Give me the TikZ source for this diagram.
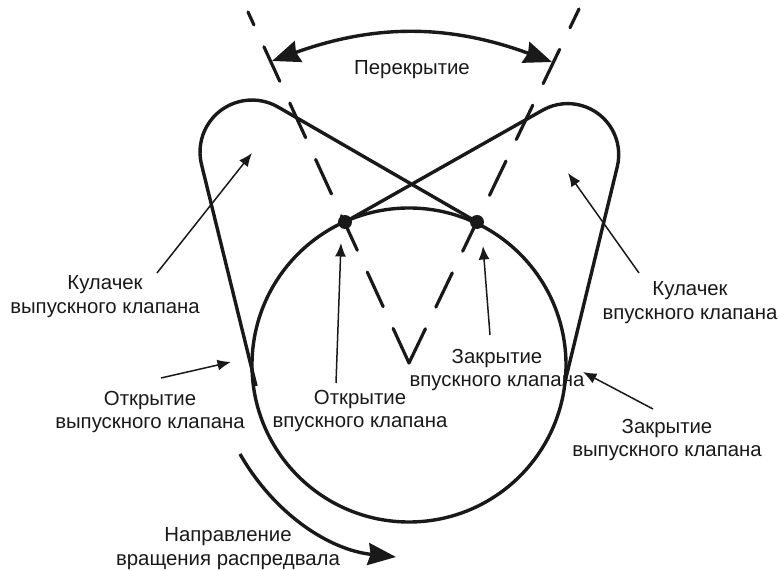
\documentclass[tikz,border=0pt]{standalone}
\usepackage{fontspec}
\setmainfont{Liberation Sans}
\usetikzlibrary{arrows.meta}
\tikzset{
  cam line/.style={line width=0.068cm, draw=black!90},
  axis dash/.style={
    line width=0.064cm, draw=black!90, line cap=round,
    dash pattern=on 0.76cm off 0.48cm
  },
  thin arrow/.style={
    -{Latex[length=0.27cm,width=0.22cm]}, line width=0.03cm, draw=black!90
  },
  big arrow/.style={
    line width=0.068cm, draw=black!90
  },
  label text/.style={
    align=center, font=\fontsize{11.6}{13.6}\selectfont, text=black!90, inner sep=0pt
  },
  valve dot/.style={
    circle, fill=black!90, inner sep=0pt, minimum size=0.28cm
  },
}
\begin{document}
\begin{tikzpicture}[x=0.02cm,y=-0.02cm]
  \useasboundingbox (0,0) rectangle (779,571);

  % Base circle
  \coordinate (center) at (409,365);
  \draw[cam line] (center) circle[radius=157];

  % Overlap axes
  \coordinate (apex) at (409,363);
  \coordinate (exhausttop) at (248,12);
  \coordinate (intaketop) at (579,9);
  \draw[axis dash] (apex) -- (exhausttop);
  \draw[axis dash] (apex) -- (intaketop);

  \node[valve dot] (intakeopen) at (345,222) {};
  \node[valve dot] (intakeclose) at (477,222) {};

  % Exhaust lobe
  \draw[cam line] (intakeclose.center) -- (278,107)
    arc[start angle=-60, end angle=-193, radius=52] -- (256,386);

  % Intake lobe
  \draw[cam line] (intakeopen.center) -- (543,110)
    arc[start angle=-119, end angle=14, radius=51] -- (564,386);

  % Overlap
  \coordinate (overlapleft) at (272,61);
  \coordinate (overlapright) at (552,62);
  \draw[big arrow, {Stealth[length=0.56cm,width=0.44cm,inset=0.05cm]}-{Stealth[length=0.56cm,width=0.44cm,inset=0.05cm]}]
    (overlapleft) to[bend left=20] (overlapright);
  \node[label text] (overlap) at (412,70) {Перекрытие};

  % Exhaust lobe label
  \node[label text] (exhaustcam) at (105,297) {Кулачек\\выпускного клапана};
  \coordinate (exhaustcamtail) at (157,273);
  \coordinate (exhaustcamtip) at (252,153);
  \draw[thin arrow] (exhaustcamtail) -- (exhaustcamtip);

  % Intake lobe label
  \node[label text] (intakecam) at (690,303) {Кулачек\\впускного клапана};
  \coordinate (intakecamtail) at (639,273);
  \coordinate (intakecamtip) at (568,173);
  \draw[thin arrow] (intakecamtail) -- (intakecamtip);

  % Exhaust opening
  \node[label text] (exhaustopen) at (150,412) {Открытие\\выпускного клапана};
  \coordinate (exhaustopentail) at (161,378);
  \coordinate (exhaustopentip) at (231,362);
  \draw[thin arrow] (exhaustopentail) -- (exhaustopentip);

  % Intake opening
  \node[label text] (intakeopenlabel) at (360,411) {Открытие\\впускного клапана};
  \coordinate (intakeopentail) at (336,383);
  \coordinate (intakeopentip) at (341,243);
  \draw[thin arrow] (intakeopentail) -- (intakeopentip);

  % Intake closing
  \node[label text] (intakecloselabel) at (497,370) {Закрытие\\впускного клапана};
  \coordinate (intakeclosetail) at (490,335);
  \coordinate (intakeclosetip) at (483,246);
  \draw[thin arrow] (intakeclosetail) -- (intakeclosetip);

  % Exhaust closing
  \node[label text] (exhaustclose) at (667,440) {Закрытие\\выпускного клапана};
  \coordinate (exhaustclosetail) at (653,409);
  \coordinate (exhaustclosetip) at (583,372);
  \draw[thin arrow] (exhaustclosetail) -- (exhaustclosetip);

  % Rotation
  \node[label text] (rotation) at (228,549) {Направление\\вращения распредвала};
  \coordinate (rotationstart) at (240,454);
  \coordinate (rotationend) at (396,557);
  \draw[big arrow, -{Stealth[length=0.56cm,width=0.44cm,inset=0.05cm]}] (rotationstart)
    .. controls (275,515) and (330,550) .. (rotationend);

\end{tikzpicture}
\end{document}
